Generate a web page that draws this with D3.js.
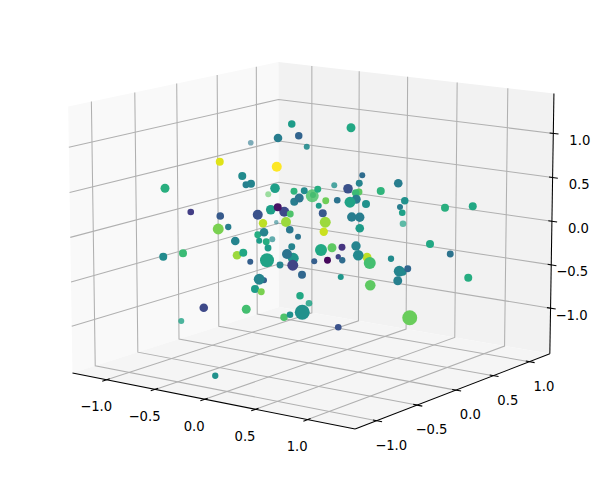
<!DOCTYPE html>
<html><head><meta charset="utf-8">
<script src="https://cdn.jsdelivr.net/npm/d3@7/dist/d3.min.js"></script>
<style>html,body{margin:0;padding:0;background:#fff}svg{display:block}text{font-family:"DejaVu Sans";font-size:13.2px;fill:#000}</style>
</head><body><svg id="c" width="612" height="484"></svg>
<script>
const xTicks=[-1,-0.5,0,0.5,1], yTicks=[-1,-0.5,0,0.5,1], zTicks=[-1,-0.5,0,0.5,1];
const xLimits=[-1.36,1.445], yLimits=[-1.26,1.29], zLimits=[-1.53,1.45];
const tickText=v=>(v<0?"\u2212":"")+Math.abs(v).toFixed(1);

// Scatter values, as positions on the view plane
const pointU=[-0.197,-0.127,-0.095,-0.111,0.412,0.137,-0.475,0.036,0.027,0.052,0.049,
-0.033,-0.088,-0.005,-0.321,-0.093,-0.231,-0.54,-0.216,-0.196,-0.1,-0.024,0.017,0.071,-0.023,-0.003,0.103,0.075,-0.117,-0.063,-0.089,-0.039,-0.169,-0.319,-0.437,0.091,-0.056,-0.148,0.101,-0.327,-0.287,-0.041,-0.169,-0.144,0.095,-0.008,-0.259,-0.163,-0.135,-0.128,-0.033,-0.547,-0.468,-0.252,-0.227,-0.027,-0.052,0.084,0.128,-0.199,-0.132,-0.08,-0.029,0.057,0.11,0.008,-0.144,-0.163,-0.18,-0.155,0,-0.385,-0.215,-0.064,-0.04,0.009,-0.339,
0.204,0.249,0.237,0.393,0.192,0.236,0.223,0.323,0.149,0.225,0.2,0.264,0.419,0.4,0.409,0.58,0.691,0.207,0.239,0.239,0.52,0.601,0.224,0.168,0.268,0.279,0.233,0.153,0.169,0.364,0.397,0.411,0.431,0.391,0.163,0.673,0.281,0.439,0.153];
const pointV=[0.389,0.183,0.071,0.003,0.065,0.219,-0.324,-0.253,0.373,0.18,0.177,
0.464,0.408,0.417,0.313,0.293,0.256,0.207,0.221,0.225,0.207,0.195,0.197,0.203,0.153,0.168,0.157,0.137,0.121,0.113,0.131,0.104,0.101,0.096,0.112,0.107,0.072,0.067,0.071,0.044,0.052,0.041,0.021,0.031,0.033,0.013,-0.004,-0.003,-0.007,-0.032,-0.027,-0.067,-0.053,-0.061,-0.051,-0.073,-0.056,-0.04,-0.031,-0.087,-0.081,-0.1,-0.101,-0.085,-0.081,-0.139,-0.161,-0.157,-0.196,-0.207,-0.223,-0.271,-0.277,-0.309,-0.299,-0.289,-0.543,
0.449,0.259,0.227,0.227,0.205,0.192,0.188,0.196,0.159,0.163,0.151,0.144,0.157,0.132,0.109,0.129,0.135,0.092,0.091,0.047,-0.016,-0.056,-0.024,-0.029,-0.069,-0.092,-0.061,-0.067,-0.081,-0.075,-0.125,-0.128,-0.115,-0.163,-0.148,-0.151,-0.181,-0.311,-0.349];
const pointSize=[8,9,5,9,11,9,9,11,9,9,42,
14,18.5,14,16,25,16,20,12,16,23,12,12,12,16,20,12,9,23,25,16,12,25,14.5,11,16,25,17.6,30,30,10,14.5,12,18.5,17.6,9,18.5,9,12,12,12,16,16,18.5,16,30,25,36,20,9,49,12,30,9,12,16,9,30,16,12,14,18.5,20,14,11,56,10,
20,9,12,18.5,23,12,14,16,11,20,30,16,14,9,11,16,16,22,22,18.5,16,12,22,12,20,36,28,7,10,10,30,14,12,20,9,16,28,56,11];
const pointColor=[0.40,0.75,0.45,0.48,0.58,0.5,0.58,0.58,0.48,0.5,0.72,
0.55,0.42,0.32,0.95,1,0.48,0.63,0.43,0.45,0.56,0.65,0.48,0.62,0.42,0.38,0.78,0.55,0.56,0.22,0.05,0.72,0.25,0.28,0.18,0.27,0.85,0.9,0.85,0.8,0.42,0.4,0.62,0.45,0.92,0.38,0.45,0.55,0.62,0.55,0.45,0.48,0.68,0.85,0.6,0.52,0.38,0.6,0.75,0.3,0.58,0.45,0.2,0.3,0.02,0.33,0.3,0.45,0.55,0.8,0.6,0.22,0.7,0.72,0.5,0.5,0.5,
0.6,0.35,0.45,0.42,0.25,0.75,0.68,0.65,0.38,0.42,0.58,0.5,0.5,0.42,0.57,0.63,0.6,0.42,0.42,0.55,0.6,0.38,0.45,0.15,0.9,0.7,0.47,0.2,0.35,0.48,0.45,0.47,0.33,0.43,0.53,0.62,0.75,0.77,0.25];
const pointAlpha=[0.6,0.6,0.6,0.7,0.7,0.8,0.8,0.85,0.9,1,0.85];

// View of the 3D box
const elev=11.726, azim=-54.01, dist=10;
const kx=3016, ky=3138, cx=314.09, cy=232.78;
const A=1.8294640721620434*4/Math.hypot(4,4,3), B=1.8294640721620434*3/Math.hypot(4,4,3);
const sx=d3.scaleLinear().domain(xLimits).range([-A/2,A/2]);
const sy=d3.scaleLinear().domain(yLimits).range([-A/2,A/2]);
const sz=d3.scaleLinear().domain(zLimits).range([-B/2,B/2]);
const e=elev*Math.PI/180,a=azim*Math.PI/180;
const w=[Math.cos(e)*Math.cos(a),Math.cos(e)*Math.sin(a),Math.sin(e)];
const u=[-Math.sin(a),Math.cos(a),0];
const v=[w[1]*u[2]-w[2]*u[1],w[2]*u[0]-w[0]*u[2],w[0]*u[1]-w[1]*u[0]];
const dot=(p,q)=>p[0]*q[0]+p[1]*q[1]+p[2]*q[2];
function proj(x,y,z){
  const p=[sx(x),sy(y),sz(z)], f=1/(dist-dot(p,w));
  return [cx+kx*dot(p,u)*f, cy-ky*dot(p,v)*f];
}
const [x0,x1]=xLimits,[y0,y1]=yLimits,[z0,z1]=zLimits;
const svg=d3.select("#c");
const path=pts=>"M"+pts.map(p=>proj(...p).map(n=>n.toFixed(2)).join(",")).join("L");

// panes
svg.append("path").attr("d",path([[x0,y0,z0],[x0,y1,z0],[x0,y1,z1],[x0,y0,z1]])+"Z").attr("fill","#f9f9f9");
svg.append("path").attr("d",path([[x0,y1,z0],[x1,y1,z0],[x1,y1,z1],[x0,y1,z1]])+"Z").attr("fill","#f2f2f2");
svg.append("path").attr("d",path([[x0,y0,z0],[x1,y0,z0],[x1,y1,z0],[x0,y1,z0]])+"Z").attr("fill","#f5f5f5");

// grid
const grid=svg.append("g").attr("fill","none").attr("stroke","#b0b0b0").attr("stroke-width",1.05);
xTicks.forEach(t=>grid.append("path").attr("d",path([[t,y0,z0],[t,y1,z0],[t,y1,z1]])));
yTicks.forEach(t=>grid.append("path").attr("d",path([[x1,t,z0],[x0,t,z0],[x0,t,z1]])));
zTicks.forEach(t=>grid.append("path").attr("d",path([[x0,y0,t],[x0,y1,t],[x1,y1,t]])));

// axis lines and ticks
const ax=svg.append("g").attr("fill","none").attr("stroke","#000").attr("stroke-width",1.05);
ax.append("path").attr("d",path([[x0,y0,z0],[x1,y0,z0]]));
ax.append("path").attr("d",path([[x1,y0,z0],[x1,y1,z0]]));
ax.append("path").attr("d",path([[x1,y1,z0],[x1,y1,z1]]));
const dI=0.035,dO=0.05;
xTicks.forEach(t=>ax.append("path").attr("d",path([[t,y0+dI,z0],[t,y0-dO,z0]])));
yTicks.forEach(t=>ax.append("path").attr("d",path([[x1-dI,t,z0],[x1+dO,t,z0]])));
zTicks.forEach(t=>ax.append("path").attr("d",path([[x1-dI,y1,t],[x1+dO,y1,t]])));

// tick labels
const lab=svg.append("g").attr("dominant-baseline","central");
xTicks.forEach(t=>{const p=proj(t,y0,z0);lab.append("text").attr("text-anchor","middle").attr("x",p[0]-10.5).attr("y",p[1]+27).text(tickText(t));});
yTicks.forEach(t=>{const p=proj(x1,t,z0);lab.append("text").attr("text-anchor","middle").attr("x",p[0]+14.5).attr("y",p[1]+24.5).text(tickText(t));});
zTicks.forEach(t=>{const p=proj(x1,y1,t);lab.append("text").attr("text-anchor","end").attr("x",p[0]+37).attr("y",p[1]+7).text(tickText(t));});

// scatter
const su=d3.scaleLinear().domain([-1,1]).range([50,550]);
const sv=d3.scaleLinear().domain([-1,1]).range([490,-10]);
const sr=d3.scaleSqrt().domain([0,64]).range([0,8]);
const col=d3.scaleSequential(d3.interpolateViridis).domain([0,1]);
svg.append("g").selectAll("circle").data(d3.range(pointU.length)).join("circle")
 .attr("cx",i=>su(pointU[i])).attr("cy",i=>sv(pointV[i])).attr("r",i=>sr(pointSize[i]))
 .attr("fill",i=>col(pointColor[i])).attr("fill-opacity",i=>pointAlpha[i]??1);
</script></body></html>
